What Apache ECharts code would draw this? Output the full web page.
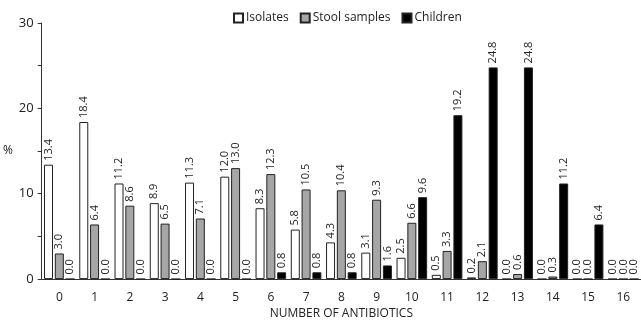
<!DOCTYPE html>
<html>
<head>
<meta charset="utf-8">
<script src="https://cdn.jsdelivr.net/npm/echarts@6/dist/echarts.min.js"></script>
<style>
  html, body { margin: 0; padding: 0; background: #fff; }
  #chart { width: 641px; height: 325px; }
</style>
</head>
<body>
<div id="chart"></div>
<script>
var categories = ['0', '1', '2', '3', '4', '5', '6', '7', '8', '9', '10', '11', '12', '13', '14', '15', '16']
var isolates = [13.4, 18.4, 11.2, 8.9, 11.3, 12.0, 8.3, 5.8, 4.3, 3.1, 2.5, 0.5, 0.2, 0.0, 0.0, 0.0, 0.0]
var stool = [3.0, 6.4, 8.6, 6.5, 7.1, 13.0, 12.3, 10.5, 10.4, 9.3, 6.6, 3.3, 2.1, 0.6, 0.3, 0.0, 0.0]
var children = [0.0, 0.0, 0.0, 0.0, 0.0, 0.0, 0.8, 0.8, 0.8, 1.6, 9.6, 19.2, 24.8, 24.8, 11.2, 6.4, 0.0]

var font = 'Open Sans'
var myChart = echarts.init(document.getElementById('chart'))

var label = {
  show: true,
  position: 'top',
  rotate: 90,
  align: 'left',
  verticalAlign: 'middle',
  distance: 4,
  fontFamily: font,
  fontSize: 11,
  color: '#222',
  formatter: function (p) { return p.value.toFixed(1) }
}

function bar (name, data, color) {
  return {
    name: name,
    type: 'bar',
    data: data,
    barWidth: 9,
    barGap: '20%',
    itemStyle: { color: color, borderColor: '#222', borderWidth: 1 },
    label: label
  }
}

var option = {
  animation: false,
  textStyle: { fontFamily: font },
  legend: {
    top: 7,
    left: 228,
    itemWidth: 9,
    itemHeight: 9,
    itemGap: 11,
    icon: 'rect',
    textStyle: { fontSize: 12, color: '#222', fontFamily: font, padding: [0, 0, 0, -2] },
    data: ['Isolates', 'Stool samples', 'Children']
  },
  grid: { left: 41, top: 23, width: 605, bottom: 44, containLabel: false },
  xAxis: {
    type: 'category',
    data: categories,
    name: 'NUMBER OF ANTIBIOTICS',
    nameLocation: 'middle',
    nameGap: 28,
    nameTextStyle: { fontSize: 12, color: '#222', fontFamily: font },
    axisLine: { lineStyle: { color: '#333' } },
    axisTick: { show: false },
    axisLabel: { fontSize: 12, color: '#222', margin: 12, fontFamily: font }
  },
  yAxis: {
    type: 'value',
    min: 0,
    max: 30,
    interval: 5,
    name: '%',
    nameLocation: 'middle',
    nameRotate: 0,
    nameGap: 27,
    nameTextStyle: { fontSize: 12, color: '#222', fontFamily: font },
    axisLine: { show: true, lineStyle: { color: '#333' } },
    axisTick: { show: true, length: 4, inside: false, lineStyle: { color: '#333' } },
    splitLine: { show: false },
    axisLabel: {
      fontSize: 13,
      color: '#222',
      fontFamily: font,
      margin: 8,
      formatter: function (v) { return v % 10 === 0 ? v : '' }
    }
  },
  series: [
    bar('Isolates', isolates, '#ffffff'),
    bar('Stool samples', stool, '#a6a6a6'),
    bar('Children', children, '#000000')
  ]
}
myChart.setOption(option)
</script>
</body>
</html>
